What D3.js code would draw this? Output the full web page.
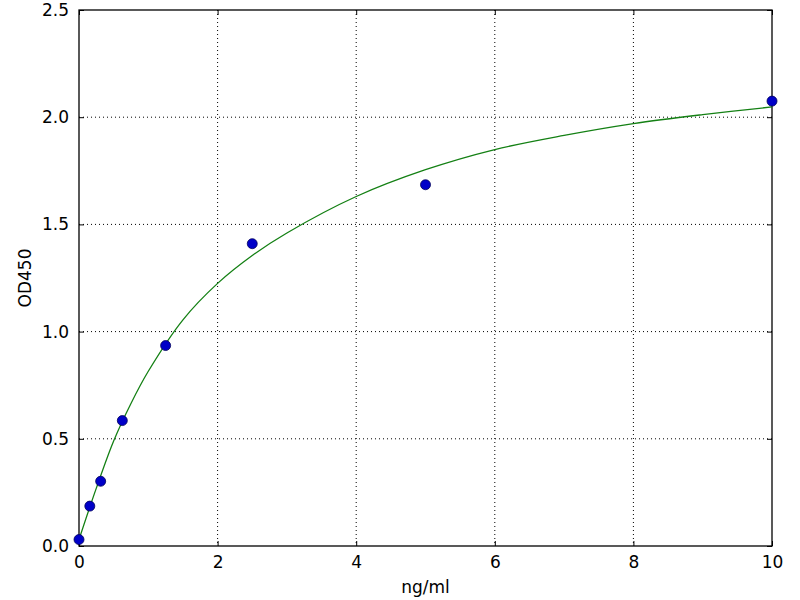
<!DOCTYPE html>
<html lang="en">
<head>
  <meta charset="UTF-8">
  <title>OD450 standard curve</title>
  <script src="https://d3js.org/d3.v7.min.js"></script>
  <style>
    body { margin: 0; background: #fff; }
    text { font-family: "DejaVu Sans", sans-serif; }
  </style>
</head>
<body>
  <svg width="800" height="600"></svg>
<script>
// measured standards
var conc = [0, 0.156, 0.3125, 0.625, 1.25, 2.5, 5, 10];
var od = [0.03, 0.186, 0.302, 0.585, 0.935, 1.41, 1.685, 2.075];

// fitted curve
var curveX = [0, 0.25, 0.5, 0.75, 1, 1.5, 2, 2.5, 3, 4, 5, 6, 7, 8, 9, 10];
var curveY = [0.03, 0.27, 0.49, 0.665, 0.815, 1.055, 1.225, 1.355, 1.46, 1.63, 1.755, 1.849, 1.915, 1.97, 2.012, 2.048];

var xTicks = [0, 2, 4, 6, 8, 10];
var yTicks = [0, 0.5, 1, 1.5, 2, 2.5];

var svg = d3.select("svg");
// plot box (note: "top" is taken by window.top, so use own names)
var pLeft = 79, pRight = 772, pTop = 10, pBottom = 546;

var x = d3.scaleLinear().domain([0, 10]).range([pLeft, pRight]);
var y = d3.scaleLinear().domain([0, 2.5]).range([pBottom, pTop]);

// dotted grid
var grid = svg.append("g")
  .attr("stroke", "#000")
  .attr("stroke-width", 1)
  .attr("stroke-dasharray", "1,3");
grid.selectAll(".gx").data(xTicks.slice(1, -1)).enter().append("line")
  .attr("x1", function(d){ return x(d); })
  .attr("x2", function(d){ return x(d); })
  .attr("y1", pTop).attr("y2", pBottom);
grid.selectAll(".gy").data(yTicks.slice(1, -1)).enter().append("line")
  .attr("y1", function(d){ return y(d); })
  .attr("y2", function(d){ return y(d); })
  .attr("x1", pLeft).attr("x2", pRight);

// axes, ticks pointing inward on all sides
function style(g) {
  g.select(".domain").remove();
  g.selectAll("text").attr("font-size", "17px").attr("fill", "#000")
    .style("font-family", "DejaVu Sans");
  g.selectAll(".tick line").attr("stroke", "#000");
}
svg.append("g")
  .attr("transform", "translate(0," + pBottom + ")")
  .call(d3.axisBottom(x).tickValues(xTicks).tickSize(-5).tickPadding(10)
    .tickFormat(d3.format("d")))
  .call(style);
svg.append("g")
  .attr("transform", "translate(0," + pTop + ")")
  .call(d3.axisTop(x).tickValues(xTicks).tickSize(-5).tickFormat(""))
  .call(style);
svg.append("g")
  .attr("transform", "translate(" + pLeft + ",0)")
  .call(d3.axisLeft(y).tickValues(yTicks).tickSize(-5).tickPadding(10)
    .tickFormat(d3.format(".1f")))
  .call(style);
svg.append("g")
  .attr("transform", "translate(" + pRight + ",0)")
  .call(d3.axisRight(y).tickValues(yTicks).tickSize(-5).tickFormat(""))
  .call(style);

// frame
svg.append("rect")
  .attr("x", pLeft).attr("y", pTop)
  .attr("width", pRight - pLeft).attr("height", pBottom - pTop)
  .attr("fill", "none").attr("stroke", "#000").attr("stroke-width", 1.3);

// curve
var line = d3.line()
  .x(function(d, i){ return x(curveX[i]); })
  .y(function(d){ return y(d); })
  .curve(d3.curveCatmullRom.alpha(0.5));
svg.append("path")
  .datum(curveY)
  .attr("fill", "none")
  .attr("stroke", "#148014")
  .attr("stroke-width", 1.3)
  .attr("d", line);

// points
svg.append("g").selectAll("circle")
  .data(od).enter().append("circle")
  .attr("cx", function(d, i){ return x(conc[i]); })
  .attr("cy", function(d){ return y(d); })
  .attr("r", 5)
  .attr("fill", "#0000c8")
  .attr("stroke", "#00005a")
  .attr("stroke-width", 0.8);

// labels
svg.append("text")
  .attr("x", (pLeft + pRight) / 2).attr("y", 593)
  .attr("text-anchor", "middle")
  .attr("font-size", "17px")
  .text("ng/ml");
svg.append("text")
  .attr("transform", "translate(31," + (pTop + pBottom) / 2 + ") rotate(-90)")
  .attr("text-anchor", "middle")
  .attr("font-size", "17px")
  .text("OD450");
</script>
</body>
</html>
